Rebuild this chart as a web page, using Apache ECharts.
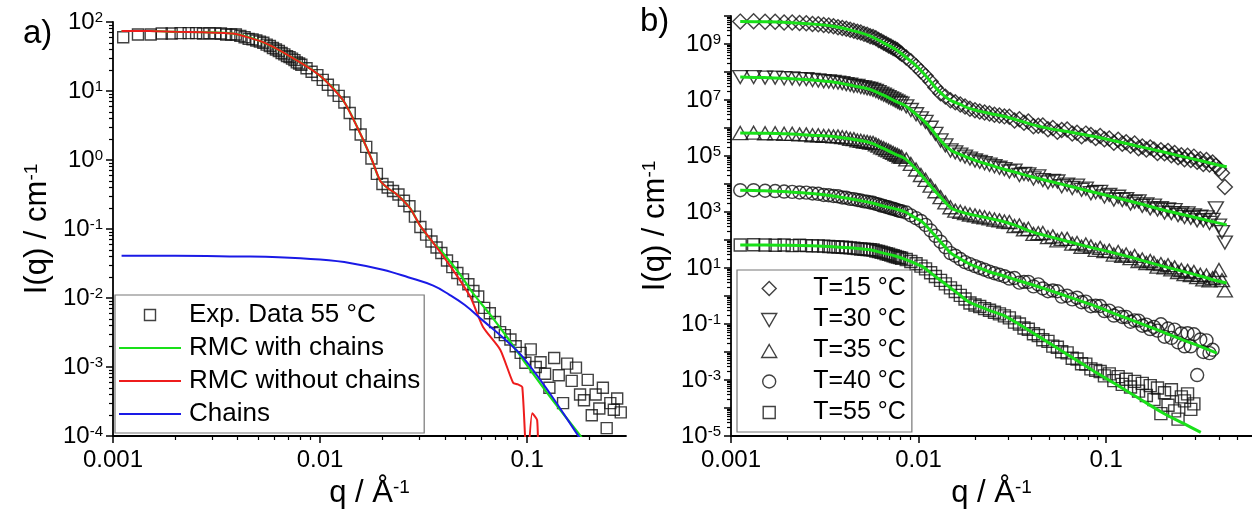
<!DOCTYPE html>
<html><head><meta charset="utf-8">
<script src="https://cdn.jsdelivr.net/npm/echarts@6/dist/echarts.min.js"></script>
<style>html,body{margin:0;padding:0;background:#fff;}#c{width:1252px;height:521px;}</style>
</head><body><div id="c"></div>
<script>
// ---------------- data ----------------
const qData = [
 0.00112,0.00132,0.00152,0.00172,0.00192,0.00212,0.00232,0.00252,0.00272,0.00292,
 0.00312,0.00332,0.00352,0.00372,0.00392,0.00412,0.00432,0.00452,0.00472,0.00492,
 0.00512,0.00532,0.00552,0.00572,0.00592,0.00612,0.00632,0.00652,0.00672,0.00692,
 0.00712,0.00732,0.00752,0.00772,0.00792,0.00812,
 0.0086,0.0091,0.0097,0.0103,0.0109,0.0116,0.0123,0.0131,0.0139,0.0148,
 0.0157,0.0167,0.0177,0.0188,0.02,0.0212,0.0225,0.0239,0.0254,0.027,0.0287,
 0.0305,0.0325,0.0345,0.0365,0.0385,0.041,0.0435,0.046,0.049,0.052,
 0.055,0.058,0.062,0.066,0.07,0.074,0.078,0.083,0.088,0.093,
 0.098,0.104,0.11,0.116,0.122,0.128,0.135,0.142,0.149,0.156,
 0.164,0.172,0.18,0.188,0.196,0.205,0.214,0.223,0.232,0.242,
 0.252,0.262,0.272,0.283,0.294,0.306,0.318,0.33,0.343,0.356,
 0.37,0.385,0.4,0.415,0.43];

// panel a
const expA55 = [60,66,66,68,68,69,69,69,68,69,68,68,66,66,66,63,60,57,56,54,
 52,50,47,45,42,40,38,35.5,34,32,31,29.5,28,26,25,24,
 21.4,19,17,14.5,12.3,10.2,8.5,6.8,4.8,3.3,2.34,1.55,1.05,0.63,0.45,0.40,0.355,0.316,0.257,0.214,0.151,
 0.107,0.083,0.066,0.054,0.045,0.035,0.028,0.023,0.0186,0.0158,
 0.0126,0.0105,0.0072,0.006,0.0045,0.0032,0.0029,0.0025,0.002,0.0016,
 0.00115,0.0018,0.001,0.00117,0.0008,0.0005,0.00135,0.00076,0.0003,0.00112,
 0.00063,0.00098,0.0004,0.00033,0.00065,0.0002,0.0004,0.00025,0.0005,0.00013,
 0.0003,0.00024,0.00035,0.00022];
const qRedA = [0.0011,0.0015,0.002,0.0027,0.0038,0.0053,0.0074,0.01,0.0129,0.0156,0.0178,0.0195,0.0215,0.0234,0.0272,0.0304,0.0352,0.041,0.0474,0.0535,0.0612,0.0741,0.0855,0.0902,0.0947,0.1,0.1057,0.1117,0.113];
const redA = [74,74,72,71,68,51,30,16.6,7.4,2.45,1.0,0.5,0.38,0.32,0.2,0.112,0.063,0.034,0.018,0.01,0.0038,0.00178,0.00059,0.00056,0.00051,3.2e-5,0.000214,0.00017,3.2e-5];
const qGreenA = [0.0011,0.0015,0.002,0.0027,0.0038,0.0053,0.0074,0.01,0.0129,0.0156,0.0178,0.0195,0.0215,0.0234,0.0272,0.0304,0.0352,0.038,0.0474,0.0548,0.0667,0.08,0.0957,0.129,0.18,0.186];
const greenA = [74,74,72,71,68,51,30,16.6,7.4,2.45,1.0,0.5,0.38,0.32,0.2,0.112,0.063,0.05,0.022,0.0117,0.0056,0.0027,0.00126,0.00037,0.000102,8.9e-5];
const qBlueA = [0.0011,0.002,0.004,0.0063,0.01,0.0141,0.0201,0.0266,0.0352,0.042,0.05,0.0612,0.0794,0.0955,0.129,0.176,0.182];
const blueA = [0.041,0.041,0.040,0.039,0.036,0.032,0.0257,0.02,0.0151,0.0112,0.0079,0.0047,0.0024,0.00138,0.00041,0.000102,8.9e-5];

// panel b (measured points)
const dB15 = [6.3e9,6.5e9,6.2e9,6.2e9,5.9e9,5.9e9,5.6e9,5.5e9,5.2e9,5.1e9,4.8e9,4.6e9,4.3e9,4.0e9,3.7e9,3.5e9,3.2e9,3.0e9,2.75e9,2.57e9,
 2.3e9,2.14e9,1.9e9,1.78e9,1.62e9,1.38e9,1.26e9,1.1e9,1.0e9,8.9e8,8.1e8,7.2e8,6.6e8,6.0e8,5.1e8,4.5e8,
 3.3e8,2.4e8,1.62e8,1.07e8,7.4e7,4.6e7,2.8e7,1.74e7,1.32e7,9.8e6,8.3e6,6.9e6,5.9e6,4.9e6,4.3e6,3.9e6,3.6e6,3.3e6,3.0e6,2.8e6,2.6e6,
 2.5e6,1.86e6,2.04e6,1.55e6,1.7e6,1.15e6,1.2e6,1.23e6,9.1e5,1.0e6,
 7.4e5,8.5e5,8.9e5,6.3e5,6.8e5,5.1e5,6.3e5,5.6e5,4.4e5,5.2e5,
 4.0e5,4.2e5,3.0e5,3.8e5,2.75e5,3.1e5,2.34e5,2.8e5,1.9e5,2.2e5,
 1.7e5,2.0e5,1.7e5,1.29e5,1.62e5,1.26e5,1.51e5,1.07e5,1.29e5,9.1e4,
 1.07e5,7.6e4,1.02e5,7.2e4,9.5e4,6.2e4,7.6e4,5.2e4,7.2e4,5.0e4,
 5.9e4,4.5e4,3.5e4,2.45e4,7.8e3];
const dB30 = [6.6e7,6.6e7,6.3e7,6.3e7,6.0e7,5.9e7,5.6e7,5.6e7,5.2e7,5.0e7,4.7e7,4.6e7,4.4e7,4.2e7,4.0e7,3.7e7,3.5e7,3.2e7,3.2e7,2.9e7,
 2.8e7,2.6e7,2.5e7,2.3e7,2.1e7,1.9e7,1.7e7,1.55e7,1.41e7,1.26e7,1.15e7,1.05e7,9.5e6,8.7e6,7.9e6,7.4e6,
 5.9e6,4.4e6,3.1e6,2.2e6,1.66e6,1.02e6,6.2e5,3.6e5,2.4e5,1.58e5,1.35e5,1.12e5,9.5e4,8.1e4,6.9e4,6.2e4,5.5e4,4.9e4,4.3e4,3.8e4,3.4e4,
 2.8e4,3.0e4,2.1e4,2.3e4,2.2e4,1.58e4,1.86e4,1.38e4,1.15e4,1.29e4,
 1.23e4,8.3e3,9.5e3,7.2e3,8.7e3,6.2e3,6.8e3,4.7e3,5.1e3,5.2e3,
 3.6e3,4.1e3,2.8e3,3.5e3,2.7e3,2.9e3,2.0e3,2.3e3,2.4e3,1.66e3,
 1.86e3,1.35e3,1.7e3,1.23e3,1.38e3,955,1.23e3,912,1.17e3,776,
 891,661,891,617,759,501,676,501,646,407,
 525,1.35e3,324,191,81];
const dB35 = [6.6e5,6.8e5,6.5e5,6.5e5,6.2e5,6.2e5,5.9e5,5.9e5,5.5e5,5.5e5,5.2e5,5.2e5,5.0e5,5.0e5,4.7e5,4.5e5,4.1e5,4.0e5,3.6e5,3.5e5,
 3.3e5,3.2e5,3.0e5,2.95e5,2.6e5,2.34e5,2.04e5,1.9e5,1.7e5,1.58e5,1.41e5,1.29e5,1.17e5,1.1e5,9.8e4,9.3e4,
 7.6e4,5.2e4,3.3e4,2.1e4,1.41e4,8.7e3,5.5e3,3.4e3,2.2e3,1.48e3,1.12e3,1.02e3,912,813,759,692,646,589,537,501,457,
 437,316,331,240,251,166,174,178,126,135,
 97.7,110,110,74,78,57.5,69,59,44.7,52.5,
 39.8,41.7,30.2,37.2,26.9,30.2,22.4,26.9,17.8,20,
 15.1,17.8,15.1,11.2,13.8,10.5,12.6,8.9,10.5,7.2,
 8.5,6.0,7.9,5.6,7.2,4.7,5.75,3.9,5.4,3.6,
 4.3,4.6,8.5,3.7,1.6];
const dB40 = [6000,6000,5750,5600,5370,5250,5000,4900,4570,4470,4070,3980,3720,3630,3310,3240,2950,2880,2690,2570,
 2400,2340,2190,2140,1950,1860,1700,1660,1510,1480,1350,1320,1230,1170,1100,1070,
 955,759,603,479,347,219,141,87,55,33.9,27.5,20.9,16.2,13.8,11.7,10,8.7,7.4,6.5,5.75,5.1,
 4.2,4.4,3.0,3.2,3.2,2.2,2.6,1.86,1.48,1.58,
 1.48,0.95,1.02,0.76,0.87,0.6,0.63,0.43,0.45,0.44,
 0.29,0.3,0.2,0.24,0.178,0.18,0.12,0.135,0.132,0.087,
 0.095,0.066,0.079,0.058,0.098,0.035,0.069,0.032,0.063,0.022,
 0.046,0.016,0.047,0.016,0.043,0.0015,0.028,0.01,0.026,0.0091,
 0.012];
const dB55 = [66,67.6,66,64.6,66,63.1,64.6,63.1,61.7,61.7,60.3,58.9,57.5,56.2,55,53.7,52.5,51.3,49,47.9,
 46.8,45.7,44.7,43.7,40.7,38.9,36.3,34.7,32.4,30.9,28.8,27.5,25.7,24.5,23.4,22.4,
 20,17,14.1,11.7,9.3,6.8,5.0,3.6,2.7,1.95,1.45,1.05,0.78,0.56,0.48,0.42,0.355,0.31,0.263,0.229,0.195,
 0.166,0.117,0.1,0.072,0.065,0.045,0.039,0.0275,0.024,0.0162,
 0.0148,0.0102,0.0093,0.006,0.0056,0.0038,0.0037,0.0025,0.0022,0.002,
 0.0014,0.00166,0.00095,0.00132,0.0007,0.00107,0.00056,0.00089,0.0004,0.00076,
 0.00028,0.00063,0.0002,0.00052,6.3e-5,0.00035,0.000126,0.00045,7.9e-5,4.0e-5,
 0.00025,0.00018,0.00032,8.9e-5,0.00014];

// panel b (RMC fits)
const qFitB = [0.00112,0.0015,0.002,0.0027,0.0035,0.0045,0.0055,0.0065,0.0075,0.0085,0.0095,0.0105,0.0115,0.0125,0.0137,0.015,0.0165,0.0185,0.021,0.024,0.028,0.033,0.04,0.05,0.065,0.085,0.11,0.15,0.2,0.26,0.32,0.39,0.44];
const fitB15 = [6.3e9,6.2e9,5.9e9,5.2e9,4.3e9,2.95e9,1.95e9,1.1e9,6.6e8,3.5e8,1.9e8,9.8e7,4.9e7,2.5e7,1.41e7,9.3e6,7.2e6,5.1e6,4.0e6,3.3e6,2.7e6,2.0e6,1.35e6,9.5e5,7.1e5,5.1e5,3.5e5,2.2e5,1.41e5,9.3e4,6.8e4,4.9e4,4.1e4];
const fitB30 = [6.6e7,6.3e7,5.9e7,5.2e7,4.4e7,3.2e7,2.4e7,1.48e7,9.1e6,6.2e6,3.5e6,2.0e6,1.07e6,5.2e5,2.6e5,1.55e5,1.17e5,8.5e4,6.3e4,4.8e4,3.5e4,2.6e4,1.82e4,1.26e4,8.1e3,5.2e3,3.4e3,2.0e3,1.2e3,794,575,417,347];
const fitB35 = [6.6e5,6.5e5,6.2e5,5.5e5,5.0e5,3.9e5,3.0e5,1.86e5,1.17e5,7.9e4,3.9e4,1.86e4,9.1e3,4.8e3,2.45e3,1.35e3,1.05e3,851,708,589,468,331,200,132,83,52.5,34.7,20,11.7,7.4,5.1,3.5,2.9];
const fitB40 = [6.0e3,5.75e3,5.25e3,4.57e3,3.72e3,2.82e3,2.19e3,1.62e3,1.29e3,1.0e3,646,437,229,123,61.7,32.4,22.4,14.5,10.2,7.2,5.4,3.8,2.57,1.58,0.87,0.47,0.24,0.11,0.052,0.026,0.0155,0.0091];
const fitB55 = [66,66,64.6,61.7,57.5,51.3,44.7,33.9,26.9,20.4,14.8,11.2,7.1,4.6,2.9,1.82,1.12,0.62,0.43,0.30,0.21,0.115,0.052,0.0204,0.0068,0.0022,7.8e-4,2.2e-4,6.8e-5,2.75e-5,1.35e-5];

// ticks / labels
const xMajor = [0.001, 0.01, 0.1];
const yMajorA = [1e-4, 1e-3, 1e-2, 0.1, 1, 10, 100];
const yMajorB = [1e-5,1e-4,1e-3,1e-2,0.1,1,10,100,1e3,1e4,1e5,1e6,1e7,1e8,1e9,1e10];
const yLabelB = [1e-5, 1e-3, 0.1, 10, 1e3, 1e5, 1e7, 1e9];
const legendNamesA = ['Exp. Data 55 °C', 'RMC with chains', 'RMC without chains', 'Chains'];
const legendNamesB = ['T=15 °C', 'T=30 °C', 'T=35 °C', 'T=40 °C', 'T=55 °C'];

// -------------- helpers --------------
const FONT = "'Liberation Sans', Arial, sans-serif";
const zip = (xs, ys) => ys.map((y, i) => [xs[i], y]);
function minorVals(e0, e1, max) {
  const out = [];
  for (let e = e0; e <= e1; e++) for (let m = 2; m <= 9; m++) {
    const v = m * Math.pow(10, e); if (v <= max * 1.0001) out.push(v);
  }
  return out;
}
const fmtDec = v => { const e = Math.round(Math.log10(v)); return Math.pow(10, e).toFixed(Math.max(0, -e)); };
const fmtPow = v => '10{s|' + Math.round(Math.log10(v)) + '}';

function xAx(grid, min, max, major) {
  return { type: 'log', logBase: 10, gridIndex: grid, min, max, position: 'bottom',
    name: 'q / Å{sup|-1}', nameLocation: 'middle', nameGap: 42,
    nameTextStyle: { fontSize: 31, color: '#000', fontFamily: FONT, rich: { sup: { fontSize: 19, verticalAlign: 'top', fontFamily: FONT } } },
    axisLine: { show: true, onZero: false, lineStyle: { color: '#000', width: 1.8 } },
    axisTick: { show: true, length: 7, customValues: major, lineStyle: { color: '#000', width: 1.5 } },
    axisLabel: { show: true, customValues: major, fontSize: 24, color: '#000', margin: 12, fontFamily: FONT, formatter: fmtDec },
    splitLine: { show: false } };
}
function yAx(grid, min, max, major, labels) {
  return { type: 'log', logBase: 10, gridIndex: grid, min, max, position: 'left',
    name: 'I(q) / cm{sup|-1}', nameLocation: 'middle', nameGap: 60, nameRotate: 90,
    nameTextStyle: { fontSize: 31, color: '#000', fontFamily: FONT, rich: { sup: { fontSize: 19, verticalAlign: 'top', fontFamily: FONT } } },
    axisLine: { show: true, onZero: false, lineStyle: { color: '#000', width: 1.8 } },
    axisTick: { show: true, length: 7, customValues: major, lineStyle: { color: '#000', width: 1.5 } },
    axisLabel: { show: true, customValues: labels, fontSize: 24, lineHeight: 24, color: '#000', margin: 10, fontFamily: FONT, formatter: fmtPow,
      rich: { s: { fontSize: 15, verticalAlign: 'top', color: '#000', fontFamily: FONT } } },
    splitLine: { show: false } };
}
function minorAx(kind, grid, min, max, vals) {
  return { type: 'log', logBase: 10, gridIndex: grid, min, max, position: kind === 'x' ? 'bottom' : 'left',
    axisLine: { show: false }, axisLabel: { show: false }, splitLine: { show: false },
    axisTick: { show: true, length: 4, customValues: vals, lineStyle: { color: '#000', width: 1.2 } } };
}
const hollow = { color: 'rgba(255,255,255,0)', borderColor: '#111', borderWidth: 1.4 };
function scat(name, xi, yi, data, symbol, size, rot) {
  return { type: 'scatter', name, xAxisIndex: xi, yAxisIndex: yi, data, symbol, symbolSize: size,
    symbolRotate: rot || 0, itemStyle: hollow, clip: true, silent: true };
}
function line(name, xi, yi, data, color, width, smooth) {
  return { type: 'line', name, xAxisIndex: xi, yAxisIndex: yi, data, symbol: 'none', smooth,
    lineStyle: { color, width }, itemStyle: { color }, clip: true, silent: true };
}

const GREEN = '#19e019', RED = '#ee1c1c', BLUE = '#1a1ae6';
const LINE_ICON = 'path://M0,0 L62,0 L62,2 L0,2 Z';

const option = {
  animation: false,
  textStyle: { fontFamily: FONT },
  title: [
    { text: 'a)', left: 18, top: 12, textStyle: { fontSize: 33, fontWeight: 'normal', color: '#000', fontFamily: FONT } },
    { text: 'b)', left: 635, top: 0, textStyle: { fontSize: 33, fontWeight: 'normal', color: '#000', fontFamily: FONT } }
  ],
  grid: [
    { left: 113, top: 22, width: 513, height: 414 },
    { left: 731, top: 16, width: 521, height: 420 }
  ],
  xAxis: [
    xAx(0, 0.001, 0.3, xMajor),
    minorAx('x', 0, 0.001, 0.3, minorVals(-3, -1, 0.3)),
    xAx(1, 0.001, 0.6, xMajor),
    minorAx('x', 1, 0.001, 0.6, minorVals(-3, -1, 0.6))
  ],
  yAxis: [
    yAx(0, 1e-4, 100, yMajorA, yMajorA),
    minorAx('y', 0, 1e-4, 100, minorVals(-4, 1, 100)),
    yAx(1, 1e-5, 1e10, yMajorB, yLabelB),
    minorAx('y', 1, 1e-5, 1e10, minorVals(-5, 9, 1e10))
  ],
  legend: [
    { orient: 'vertical', left: 115, top: 295, padding: [7, 4, 6, 4], itemWidth: 62, itemHeight: 11, itemGap: 7,
      borderColor: '#777', borderWidth: 1.2, selectedMode: false,
      formatter: n => '{p| }' + n,
      textStyle: { fontSize: 26, lineHeight: 26, color: '#000', fontFamily: FONT, rich: { p: { width: 3 } } },
      data: [
        { name: legendNamesA[0], icon: 'path://M0,0 L10,0 L10,10 L0,10 Z', itemStyle: hollow },
        { name: legendNamesA[1], icon: LINE_ICON, itemStyle: { color: GREEN, borderWidth: 0 } },
        { name: legendNamesA[2], icon: LINE_ICON, itemStyle: { color: RED, borderWidth: 0 } },
        { name: legendNamesA[3], icon: LINE_ICON, itemStyle: { color: BLUE, borderWidth: 0 } }
      ] },
    { orient: 'vertical', left: 737, top: 270, padding: [6, 6, 7, 24], itemWidth: 16, itemHeight: 14, itemGap: 6,
      borderColor: '#777', borderWidth: 1.2, selectedMode: false,
      formatter: n => '{p| }' + n,
      textStyle: { fontSize: 25, lineHeight: 25, color: '#000', fontFamily: FONT, rich: { p: { width: 31 } } },
      data: [
        { name: legendNamesB[0], icon: 'path://M7,0 L14,7 L7,14 L0,7 Z', itemStyle: hollow },
        { name: legendNamesB[1], icon: 'path://M0,0 M15,14 M0,1 L15,1 L7.5,14 Z', itemStyle: hollow },
        { name: legendNamesB[2], icon: 'path://M0,0 M15,14 M7.5,1 L15,14 L0,14 Z', itemStyle: hollow },
        { name: legendNamesB[3], icon: 'path://M0,0 M14,14 M0.5,7 A6.5,6.5 0 1,1 13.5,7 A6.5,6.5 0 1,1 0.5,7 Z', itemStyle: hollow },
        { name: legendNamesB[4], icon: 'path://M0,0 M14,14 M1,1 L13,1 L13,13 L1,13 Z', itemStyle: hollow }
      ] }
  ],
  series: [
    scat(legendNamesA[0], 0, 0, zip(qData, expA55), 'rect', 11),
    line(legendNamesA[1], 0, 0, zip(qGreenA, greenA), GREEN, 2.2, 0.3),
    line(legendNamesA[2], 0, 0, zip(qRedA, redA), RED, 2, 0.2),
    line(legendNamesA[3], 0, 0, zip(qBlueA, blueA), BLUE, 2, 0.4),

    scat(legendNamesB[0], 2, 2, zip(qData, dB15), 'diamond', 15),
    scat(legendNamesB[1], 2, 2, zip(qData, dB30), 'triangle', [15, 13], 180),
    scat(legendNamesB[2], 2, 2, zip(qData, dB35), 'triangle', [15, 13]),
    scat(legendNamesB[3], 2, 2, zip(qData, dB40), 'circle', 13),
    scat(legendNamesB[4], 2, 2, zip(qData, dB55), 'rect', 12),
    line('RMC 15 °C', 2, 2, zip(qFitB, fitB15), GREEN, 3, 0.35),
    line('RMC 30 °C', 2, 2, zip(qFitB, fitB30), GREEN, 3, 0.35),
    line('RMC 35 °C', 2, 2, zip(qFitB, fitB35), GREEN, 3, 0.35),
    line('RMC 40 °C', 2, 2, zip(qFitB, fitB40), GREEN, 3, 0.35),
    line('RMC 55 °C', 2, 2, zip(qFitB, fitB55), GREEN, 3, 0.35)
  ]
};
const chart = echarts.init(document.getElementById('c'), null, { renderer: 'canvas' });
chart.setOption(option);
</script></body></html>
